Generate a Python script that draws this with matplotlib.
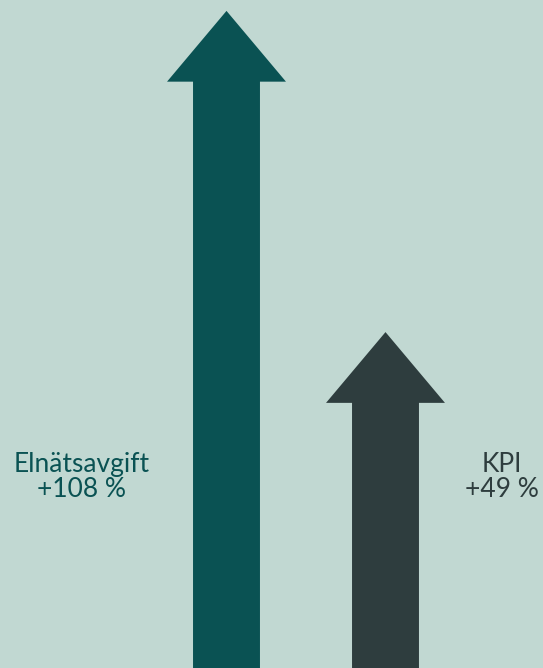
import matplotlib
matplotlib.use("Agg")
import matplotlib.pyplot as plt
from matplotlib.patches import Polygon

# Data
categories = ["Elnätsavgift", "KPI"]
values = [108, 49]
value_labels = ["+108 %", "+49 %"]
colors = ["#0a5253", "#2e3d3e"]
bg = "#c1d8d2"

fig = plt.figure(figsize=(5.43, 6.68), dpi=100)
fig.patch.set_facecolor(bg)
ax = fig.add_axes([0, 0, 1, 1])
ax.set_facecolor(bg)
ax.set_xlim(-1.4245, 1.9906)
ax.set_ylim(-12.7, 110.0)
ax.axis("off")

shaft_w = 0.421
head_w = 0.748
head_len = 13.0
bottom = -12.7

for i, (v, c) in enumerate(zip(values, colors)):
    x = i
    verts = [
        (x - shaft_w / 2, bottom),
        (x - shaft_w / 2, v - head_len),
        (x - head_w / 2, v - head_len),
        (x, v),
        (x + head_w / 2, v - head_len),
        (x + shaft_w / 2, v - head_len),
        (x + shaft_w / 2, bottom),
    ]
    ax.add_patch(Polygon(verts, closed=True, facecolor=c, edgecolor="none"))

label_y = (599 - 472) / 5.44  # baseline of first text line in data units
offsets = [-144.5, 116.5]
for i, (cat, lab, c) in enumerate(zip(categories, value_labels, colors)):
    ax.annotate(cat, xy=(i, label_y), xytext=(offsets[i] * 0.72, 0),
                textcoords="offset points", ha="center", va="baseline",
                fontsize=19, family="Lato", color=c)
    ax.annotate(lab, xy=(i, label_y), xytext=(offsets[i] * 0.72, -25 * 0.72),
                textcoords="offset points", ha="center", va="baseline",
                fontsize=19, family="Lato", color=c)

fig.savefig("out.png", dpi=100, facecolor=bg)
